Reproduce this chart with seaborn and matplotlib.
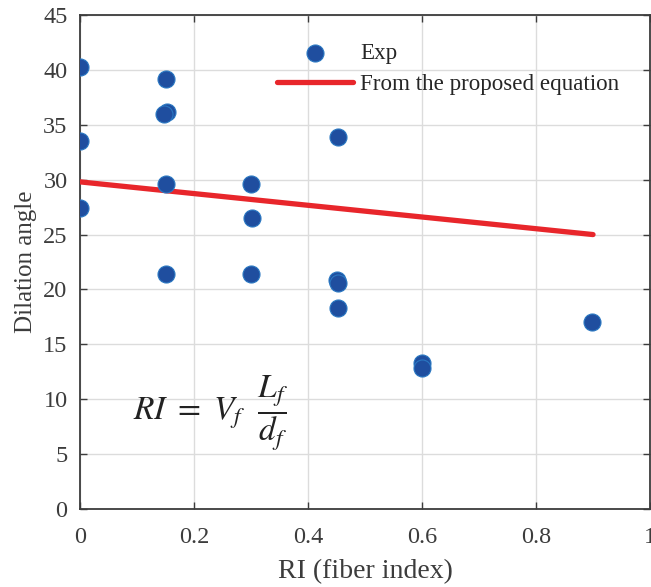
import numpy as np
import pandas as pd
import matplotlib
matplotlib.use("Agg")
import matplotlib.pyplot as plt
import seaborn as sns

# Experimental dilation angles against fiber reinforcing index
ri_exp = [0.0, 0.0, 0.0, 0.15, 0.152, 0.148, 0.15, 0.15, 0.30, 0.302, 0.30,
          0.453, 0.451, 0.453, 0.453, 0.60, 0.60, 0.898]
angle_exp = [40.3, 33.5, 27.4, 39.2, 36.2, 36.0, 29.6, 21.4, 29.6, 26.5, 21.4,
             33.9, 20.9, 20.6, 18.3, 13.3, 12.8, 17.0]

# Proposed equation evaluated at its end points
ri_eq = [0.0, 0.9]
angle_eq = [29.8, 25.0]

x_ticks = [0, 0.2, 0.4, 0.6, 0.8, 1]
x_tick_labels = ["0", "0.2", "0.4", "0.6", "0.8", "1"]
y_ticks = list(range(0, 50, 5))

sns.set_theme(style="white")
plt.rcParams["font.family"] = ["Liberation Serif", "DejaVu Serif"]
plt.rcParams["mathtext.fontset"] = "stix"

fig = plt.figure(figsize=(6.51, 5.87), dpi=100)
ax = fig.add_axes([0.1229, 0.1329, 0.8756, 0.8415])

df_exp = pd.DataFrame({"RI": ri_exp, "angle": angle_exp})
df_eq = pd.DataFrame({"RI": ri_eq, "angle": angle_eq})

sns.lineplot(data=df_eq, x="RI", y="angle", ax=ax, color="#e8262b",
             linewidth=3.8, label="From the proposed equation", zorder=3)
sns.scatterplot(data=df_exp, x="RI", y="angle", ax=ax, color="#1f4e9f",
                edgecolor="#2a78c2", linewidth=0.8, s=150, label="Exp", zorder=4)

ax.set_xlim(0, 1)
ax.set_ylim(0, 45)
ax.set_xticks(x_ticks)
ax.set_xticklabels(x_tick_labels)
ax.set_yticks(y_ticks)
ax.grid(True, color="#dcdcdc", linewidth=1.0)
ax.set_axisbelow(True)

for side in ["left", "bottom", "top", "right"]:
    ax.spines[side].set_visible(True)
    ax.spines[side].set_color("#3c3c3c")
    ax.spines[side].set_linewidth(1.3)
ax.tick_params(axis="both", direction="in", length=5, width=1.0,
               color="#3c3c3c", labelcolor="#3c3c3c", labelsize=17.5,
               bottom=True, left=True, top=True, right=True)
ax.tick_params(axis="y", pad=9)
ax.tick_params(axis="x", pad=13)

ax.set_xlabel("RI (fiber index)", fontsize=20, color="#3c3c3c", labelpad=8)
ax.set_ylabel("Dilation angle", fontsize=18, color="#3c3c3c", labelpad=4)

handles, labels = ax.get_legend_handles_labels()
order = [labels.index("Exp"), labels.index("From the proposed equation")]
ax.legend([handles[i] for i in order], [labels[i] for i in order],
          loc="upper left", bbox_to_anchor=(0.33, 0.963), borderaxespad=0,
          frameon=False, fontsize=16.6, handlelength=3.3, handletextpad=0.3,
          labelspacing=0.45)

ax.text(0.23, 8.7, r"$RI\ =\ V_f\ \ \dfrac{L_f}{d_f}$", fontsize=24,
        ha="center", va="center", color="#222222")

fig.savefig("out.png", dpi=100)
